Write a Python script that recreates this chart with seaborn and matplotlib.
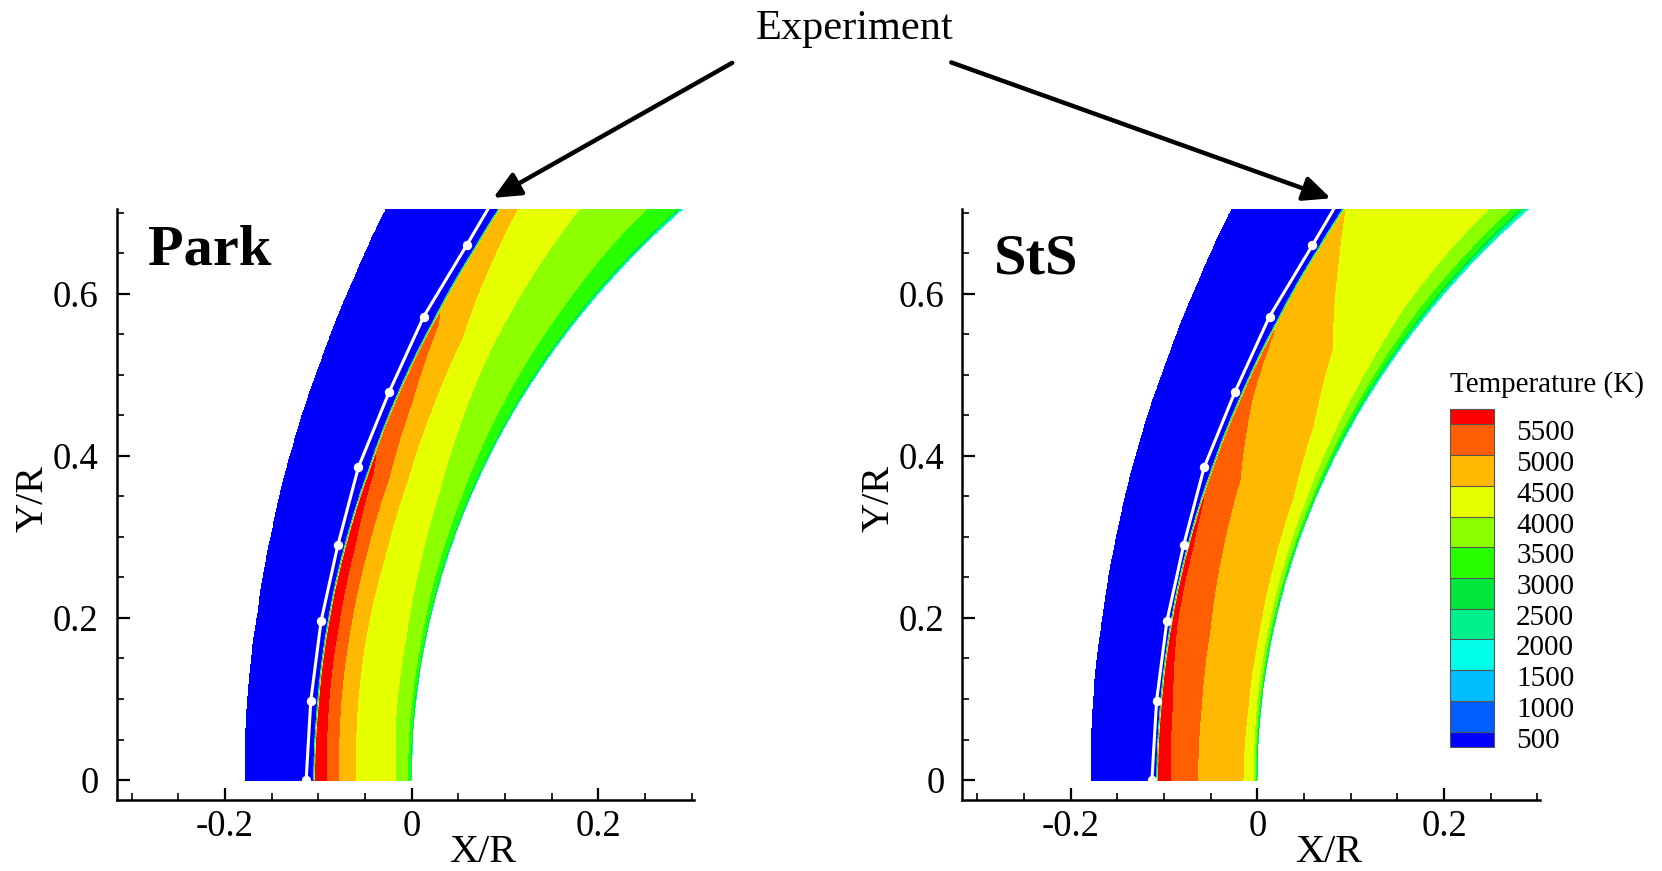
import numpy as np
import matplotlib
matplotlib.use("Agg")
import matplotlib.pyplot as plt
from matplotlib.colors import ListedColormap, BoundaryNorm
from matplotlib.cm import ScalarMappable
from matplotlib.patches import FancyArrowPatch
from matplotlib.transforms import ScaledTranslation
import seaborn as sns

nan = np.nan

# Temperature contour levels (K) and band colours, coldest band first
LEVELS = [500, 1000, 1500, 2000, 2500, 3000, 3500, 4000, 4500, 5000, 5500]
BAND_COLORS = ["#0000ff", "#005fff", "#00beff", "#00ffe6", "#00f08c", "#00e63c",
               "#28ff00", "#8cff00", "#e6ff00", "#ffb900", "#ff5f00", "#ff0000"]

T_FREESTREAM = 300.0
T_WALL = 1500.0
SHOCK_THICKNESS = 0.0025

# Stations along the sphere (angle from the stagnation line, deg)
THETA_DEG = [0, 5, 10, 15, 20, 25, 30, 35, 40, 45, 50]
# Distance from the body surface (in R) of the outer grid boundary
OUTER_D = [0.178, 0.180, 0.183, 0.190, 0.200, 0.212, 0.228, 0.248, 0.270, 0.295, 0.320]

# Park model: shock position, post-shock peak temperature, isotherm positions
PARK_SHOCK_D = [0.105, 0.105, 0.107, 0.110, 0.114, 0.121, 0.129, 0.140, 0.155, 0.173, 0.195]
PARK_PEAK_T = [5900, 5880, 5800, 5700, 5560, 5300, 5020, 4880, 4750, 4650, 4600]
PARK_D3000 = [0.0015, 0.0015, 0.0015, 0.0020, 0.0020, 0.0025, 0.0030, 0.0035, 0.0040, 0.0045, 0.0050]
PARK_D3500 = [0.0040, 0.0045, 0.0047, 0.0070, 0.0090, 0.0130, 0.0170, 0.0210, 0.0260, 0.0290, 0.0320]
PARK_D4000 = [0.017, 0.020, 0.021, 0.026, 0.033, 0.045, 0.058, 0.069, 0.080, 0.090, 0.100]
PARK_D4500 = [0.060, 0.062, 0.064, 0.065, 0.070, 0.080, 0.092, 0.116, 0.140, 0.160, 0.180]
PARK_D5000 = [0.078, 0.080, 0.082, 0.085, 0.090, 0.103, 0.122, nan, nan, nan, nan]
PARK_D5500 = [0.091, 0.093, 0.095, 0.099, 0.108, nan, nan, nan, nan, nan, nan]

# State-to-state model
STS_SHOCK_D = [0.108, 0.108, 0.110, 0.113, 0.117, 0.123, 0.131, 0.142, 0.156, 0.174, 0.195]
STS_PEAK_T = [5900, 5850, 5750, 5600, 5450, 5200, 4980, 4700, 4350, 4250, 4200]
STS_D3000 = [0.0012, 0.0012, 0.0015, 0.0018, 0.0020, 0.0030, 0.0040, 0.0050, 0.0060, 0.0070, 0.0080]
STS_D3500 = [0.0025, 0.0025, 0.0030, 0.0035, 0.0040, 0.0060, 0.0080, 0.0110, 0.0125, 0.0140, 0.0150]
STS_D4000 = [0.0040, 0.0050, 0.0060, 0.0075, 0.0090, 0.0130, 0.0180, 0.0250, 0.0290, 0.0320, 0.0350]
STS_D4500 = [0.0153, 0.0140, 0.0145, 0.0180, 0.0230, 0.0370, 0.0620, 0.1150, nan, nan, nan]
STS_D5000 = [0.064, 0.064, 0.067, 0.075, 0.084, 0.110, nan, nan, nan, nan, nan]
STS_D5500 = [0.093, 0.095, 0.103, 0.107, nan, nan, nan, nan, nan, nan, nan]

# Measured shock position (experiment)
EXP_X = [-0.113, -0.108, -0.097, -0.079, -0.057, -0.024, 0.013, 0.059, 0.105]
EXP_Y = [0.000, 0.098, 0.196, 0.290, 0.386, 0.479, 0.572, 0.660, 0.750]

X_TICKS = [-0.2, 0.0, 0.2]
X_TICK_LABELS = ["-0.2", "0", "0.2"]
Y_TICKS = [0.0, 0.2, 0.4, 0.6]
Y_TICK_LABELS = ["0", "0.2", "0.4", "0.6"]


def temperature_field(X, Y, shock_d, peak_t, isotherms):
    """Shock-layer temperature around a unit sphere centred at (1, 0)."""
    th_st = np.asarray(THETA_DEG, float)
    shock = np.asarray(shock_d, float)
    peak = np.asarray(peak_t, float)
    r = np.hypot(1.0 - X, Y)
    th = np.degrees(np.arctan2(Y, 1.0 - X))
    d = r - 1.0

    knots_d = [np.zeros_like(d)]
    knots_t = [np.full_like(d, T_WALL)]
    for level, dl in isotherms:
        dl = np.asarray(dl, float)
        absent = np.isnan(dl)
        dl = np.where(absent, shock - SHOCK_THICKNESS, dl)
        tl = np.where(absent, peak, float(level))
        knots_d.append(np.interp(th, th_st, dl))
        knots_t.append(np.interp(th, th_st, tl))
    knots_d.append(np.interp(th, th_st, shock - SHOCK_THICKNESS))
    knots_t.append(np.interp(th, th_st, peak))
    knots_d.append(np.interp(th, th_st, shock))
    knots_t.append(np.full_like(d, T_FREESTREAM))
    knots_d.append(np.interp(th, th_st, np.asarray(OUTER_D, float)))
    knots_t.append(np.full_like(d, T_FREESTREAM))

    T = np.full_like(d, np.nan)
    for k in range(len(knots_d) - 1):
        d0, d1 = knots_d[k], knots_d[k + 1]
        t0, t1 = knots_t[k], knots_t[k + 1]
        span = np.where(d1 > d0, d1 - d0, 1.0)
        frac = np.clip((d - d0) / span, 0.0, 1.0)
        inside = (d >= d0) & (d <= d1) & np.isnan(T)
        T = np.where(inside, t0 + (t1 - t0) * frac, T)
    return np.ma.masked_invalid(T)


sns.set_theme(style="ticks")
plt.rcParams["font.family"] = ["Liberation Serif", "DejaVu Serif"]
plt.rcParams["axes.unicode_minus"] = False
plt.rcParams["text.color"] = "black"
plt.rcParams["axes.labelcolor"] = "black"
plt.rcParams["xtick.color"] = "black"
plt.rcParams["ytick.color"] = "black"

fig = plt.figure(figsize=(16.62, 8.71), dpi=100)
ax_park = fig.add_axes([0.0702, 0.0812, 0.3476, 0.6791])
ax_sts = fig.add_axes([0.5791, 0.0812, 0.3476, 0.6791])

xg = np.arange(-0.20, 0.31, 0.0005)
yg = np.arange(0.0, 0.7101, 0.0005)
XX, YY = np.meshgrid(xg, yg)

cases = [
    (ax_park, "Park", PARK_SHOCK_D, PARK_PEAK_T,
     [(3000, PARK_D3000), (3500, PARK_D3500), (4000, PARK_D4000),
      (4500, PARK_D4500), (5000, PARK_D5000), (5500, PARK_D5500)], 0.905),
    (ax_sts, "StS", STS_SHOCK_D, STS_PEAK_T,
     [(3000, STS_D3000), (3500, STS_D3500), (4000, STS_D4000),
      (4500, STS_D4500), (5000, STS_D5000), (5500, STS_D5500)], 0.89),
]

contour_levels = [0] + LEVELS + [10000]
for ax, name, shock_d, peak_t, iso, title_y in cases:
    T = temperature_field(XX, YY, shock_d, peak_t, iso)
    ax.contourf(XX, YY, T, levels=contour_levels, colors=BAND_COLORS, antialiased=False)
    sns.lineplot(x=EXP_X, y=EXP_Y, sort=False, estimator=None, ax=ax, color="white",
                 linewidth=2.2, marker="o", markersize=6, markeredgecolor="white",
                 markerfacecolor="white", zorder=5)

    ax.set_xlim(-0.316, 0.303)
    ax.set_ylim(-0.025, 0.705)
    sns.despine(ax=ax)
    for side in ("left", "bottom"):
        ax.spines[side].set_linewidth(1.8)
        ax.spines[side].set_color("black")
    ax.set_xticks(X_TICKS)
    ax.set_xticklabels(X_TICK_LABELS)
    ax.set_xticks(np.arange(-0.30, 0.301, 0.05), minor=True)
    ax.set_yticks(Y_TICKS)
    ax.set_yticklabels(Y_TICK_LABELS)
    ax.set_yticks(np.arange(0.05, 0.701, 0.05), minor=True)
    ax.tick_params(which="major", direction="in", length=9, width=1.6,
                   labelsize=26.5, color="black", labelcolor="black")
    ax.tick_params(axis="x", which="major", pad=7)
    ax.tick_params(axis="y", which="major", pad=13)
    ax.tick_params(which="minor", direction="in", length=5, width=1.2, color="black")
    ax.set_facecolor("white")

    ax.text(-0.145, 0.511, "Y/R", transform=ax.transAxes, rotation=90,
            fontsize=29, ha="center", va="center", color="black")
    ax.text(0.633, -0.089, "X/R", transform=ax.transAxes,
            fontsize=29, ha="center", va="center", color="black")
    ax.text(0.055, title_y, name, transform=ax.transAxes, fontsize=42,
            fontweight="bold", ha="left", va="baseline", color="black")

# Annotation pointing at the measured shock in both panels
fig.text(0.514, 0.967, "Experiment", fontsize=30.5, ha="center", va="center", color="black")
for start, end in [((0.442, 0.9294), (0.2953, 0.7712)),
                   ((0.5708, 0.9294), (0.8023, 0.7712))]:
    fig.add_artist(FancyArrowPatch(start, end, transform=fig.transFigure,
                                   arrowstyle="-|>,head_length=0.55,head_width=0.25",
                                   mutation_scale=30, linewidth=3.2, color="black"))

# Temperature legend
cax = fig.add_axes([0.8724, 0.1424, 0.0265, 0.388])
bounds = [250] + LEVELS + [5750]
cmap = ListedColormap(BAND_COLORS)
norm = BoundaryNorm(bounds, cmap.N)
cb = fig.colorbar(ScalarMappable(norm=norm, cmap=cmap), cax=cax, ticks=LEVELS,
                  spacing="proportional", drawedges=True)
cb.outline.set_edgecolor("#555555")
cb.outline.set_linewidth(0.8)
cb.dividers.set_color("#555555")
cb.dividers.set_linewidth(0.8)
cax.minorticks_off()
cax.set_yticklabels([str(v) for v in LEVELS])
cax.tick_params(which="both", length=0, labelsize=21, pad=16, labelcolor="black")
shift = ScaledTranslation(0, -6 / 100, fig.dpi_scale_trans)
for lbl in cax.get_yticklabels():
    lbl.set_transform(lbl.get_transform() + shift)
fig.text(0.8724, 0.558, "Temperature (K)", fontsize=21, ha="left", va="center", color="black")

fig.savefig("out.png", dpi=100, facecolor="white")
